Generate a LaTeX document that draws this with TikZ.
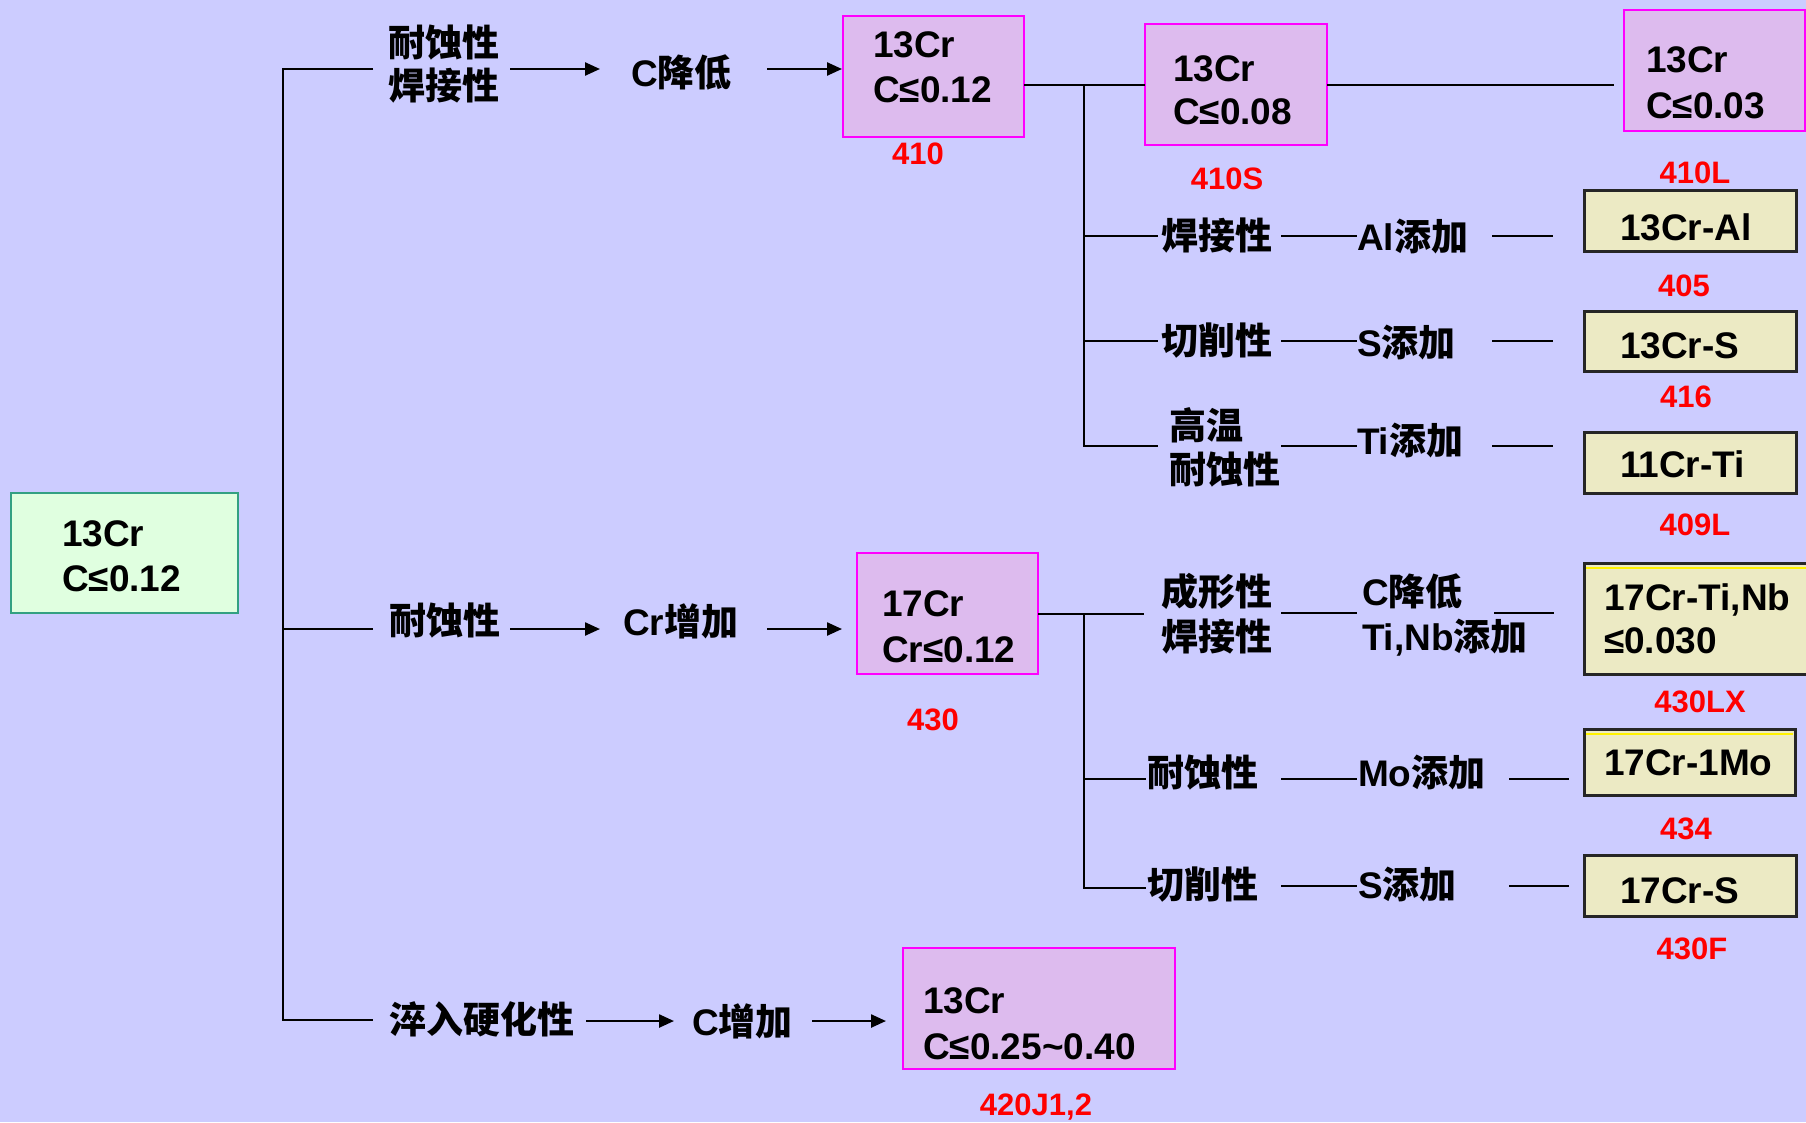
\documentclass[tikz,border=0pt]{standalone}
\usepackage{fontspec}
\setmainfont{Liberation Sans}
\newfontfamily\cjkfont{Noto Sans CJK SC}
\usetikzlibrary{arrows.meta}
\newcommand\zh[1]{{\cjkfont\bfseries #1}}
\definecolor{bgcol}{RGB}{204,204,255}
\definecolor{boxpur}{RGB}{221,187,238}
\definecolor{boxmag}{RGB}{255,0,255}
\definecolor{boxgreen}{RGB}{224,255,224}
\definecolor{greenedge}{RGB}{51,160,130}
\definecolor{beige}{RGB}{236,234,196}
\definecolor{labred}{RGB}{255,0,0}
\begin{document}
\begin{tikzpicture}[x=1pt,y=-1pt,
  every node/.style={inner sep=0pt,outer sep=0pt},
  txt/.style={anchor=base west,font=\fontsize{37}{44}\selectfont\bfseries},
  codelbl/.style={anchor=base,text=labred,font=\fontsize{31}{36}\selectfont\bfseries},
  pbox/.style={anchor=north west,draw=boxmag,fill=boxpur,line width=2.6pt},
  gbox/.style={anchor=north west,draw=greenedge,fill=boxgreen,line width=2.6pt},
  bbox/.style={anchor=north west,draw=black!85,fill=beige,line width=3pt},
  conn/.style={line width=2.4pt,draw=black},
  arr/.style={conn,-{Triangle[length=15pt,width=13pt]}}]
\clip (0,0) rectangle (1806,1122);
\fill[bgcol] (0,0) rectangle (1806,1122);

% ---------- root box
\node[gbox,minimum width=227pt,minimum height=120pt] (root) at (11,493) {};
\node[txt] (roota) at (62,546) {13Cr};
\node[txt] (rootb) at (62,591) {C≤0.12};

% ---------- main trunk
\coordinate (trT) at (283,69);
\coordinate (trM) at (283,629);
\coordinate (trB) at (283,1020);
\coordinate (brT) at (373,69);
\coordinate (brM) at (373,629);
\coordinate (brB) at (373,1020);
\draw[conn] (brT) -- (trT) -- (trB) -- (brB);
\draw[conn] (trM) -- (brM);

% ---------- top row
\node[txt] (t1a) at (388,56) {\zh{耐蚀性}};
\node[txt] (t1b) at (388,99) {\zh{焊接性}};
\node[txt] (t1c) at (631,86) {C\zh{降低}};
\coordinate (a1s) at (510,69); \coordinate (a1e) at (600,69);
\coordinate (a2s) at (767,69); \coordinate (a2e) at (842,69);
\draw[arr] (a1s) -- (a1e);
\draw[arr] (a2s) -- (a2e);

\node[pbox,minimum width=181pt,minimum height=121pt] (b410) at (843,16) {};
\node[txt] (b410a) at (873,57) {13Cr};
\node[txt] (b410b) at (873,102) {C≤0.12};
\node[codelbl] (l410) at (918,164) {410};

\node[pbox,minimum width=182pt,minimum height=121pt] (b410S) at (1145,24) {};
\node[txt] (b410Sa) at (1173,81) {13Cr};
\node[txt] (b410Sb) at (1173,124) {C≤0.08};
\node[codelbl] (l410S) at (1227,189) {410S};

\node[pbox,minimum width=181pt,minimum height=121pt] (b410L) at (1624,10) {};
\node[txt] (b410La) at (1646,72) {13Cr};
\node[txt] (b410Lb) at (1646,118) {C≤0.03};
\node[codelbl] (l410L) at (1695,183) {410L};

\coordinate (j1) at (1084,85);
\coordinate (e410L) at (1614,85);
\draw[conn] (b410.east |- j1) -- (b410S.west |- j1);
\draw[conn] (b410S.east |- j1) -- (e410L);

% sub-trunk of 410
\coordinate (s1) at (1084,236); \coordinate (s1e) at (1158,236);
\coordinate (s2) at (1084,341); \coordinate (s2e) at (1158,341);
\coordinate (s3) at (1084,446); \coordinate (s3e) at (1158,446);
\draw[conn] (j1) -- (s3) -- (s3e);
\draw[conn] (s1) -- (s1e);
\draw[conn] (s2) -- (s2e);

\node[txt] (p1) at (1161,249) {\zh{焊接性}};
\node[txt] (m1) at (1357,250) {Al\zh{添加}};
\node[txt] (p2) at (1161,354) {\zh{切削性}};
\node[txt] (m2) at (1357,356) {S\zh{添加}};
\node[txt] (p3a) at (1169,439) {\zh{高温}};
\node[txt] (p3b) at (1169,483) {\zh{耐蚀性}};
\node[txt] (m3) at (1357,454) {Ti\zh{添加}};

\coordinate (c1a) at (1281,236); \coordinate (c1b) at (1357,236);
\coordinate (c1c) at (1492,236); \coordinate (c1d) at (1553,236);
\coordinate (c2a) at (1281,341); \coordinate (c2b) at (1357,341);
\coordinate (c2c) at (1492,341); \coordinate (c2d) at (1553,341);
\coordinate (c3a) at (1281,446); \coordinate (c3b) at (1357,446);
\coordinate (c3c) at (1492,446); \coordinate (c3d) at (1553,446);
\draw[conn] (c1a) -- (c1b); \draw[conn] (c1c) -- (c1d);
\draw[conn] (c2a) -- (c2b); \draw[conn] (c2c) -- (c2d);
\draw[conn] (c3a) -- (c3b); \draw[conn] (c3c) -- (c3d);

\node[bbox,minimum width=212pt,minimum height=61pt] (bAl) at (1584,190) {};
\node[txt] (bAlt) at (1620,240) {13Cr-Al};
\node[codelbl] (l405) at (1684,296) {405};
\node[bbox,minimum width=212pt,minimum height=60pt] (bS13) at (1584,311) {};
\node[txt] (bS13t) at (1620,358) {13Cr-S};
\node[codelbl] (l416) at (1686,407) {416};
\node[bbox,minimum width=212pt,minimum height=61pt] (bTi) at (1584,432) {};
\node[txt] (bTit) at (1620,477) {11Cr-Ti};
\node[codelbl] (l409L) at (1695,535) {409L};

% ---------- middle row
\node[txt] (t2a) at (389,634) {\zh{耐蚀性}};
\node[txt] (t2b) at (623,635) {Cr\zh{增加}};
\coordinate (a3s) at (510,629); \coordinate (a3e) at (600,629);
\coordinate (a4s) at (767,629); \coordinate (a4e) at (842,629);
\draw[arr] (a3s) -- (a3e);
\draw[arr] (a4s) -- (a4e);

\node[pbox,minimum width=181pt,minimum height=121pt] (b430) at (857,553) {};
\node[txt] (b430a) at (882,616) {17Cr};
\node[txt] (b430b) at (882,662) {Cr≤0.12};
\node[codelbl] (l430) at (933,730) {430};

\coordinate (j2) at (1084,614);
\coordinate (j2e) at (1144,614);
\draw[conn] (b430.east |- j2) -- (j2e);
\coordinate (u1) at (1084,779); \coordinate (u1e) at (1146,779);
\coordinate (u2) at (1084,888); \coordinate (u2e) at (1146,888);
\draw[conn] (j2) -- (u2) -- (u2e);
\draw[conn] (u1) -- (u1e);

\node[txt] (q1a) at (1161,605) {\zh{成形性}};
\node[txt] (q1b) at (1161,650) {\zh{焊接性}};
\node[txt] (n1a) at (1362,605) {C\zh{降低}};
\node[txt] (n1b) at (1362,650) {Ti,Nb\zh{添加}};
\node[txt] (q2) at (1147,786) {\zh{耐蚀性}};
\node[txt] (n2) at (1358,786) {Mo\zh{添加}};
\node[txt] (q3) at (1147,898) {\zh{切削性}};
\node[txt] (n3) at (1358,898) {S\zh{添加}};

\coordinate (d1a) at (1281,613); \coordinate (d1b) at (1357,613);
\coordinate (d1c) at (1494,613); \coordinate (d1d) at (1554,613);
\coordinate (d2a) at (1281,779); \coordinate (d2b) at (1357,779);
\coordinate (d2c) at (1509,779); \coordinate (d2d) at (1569,779);
\coordinate (d3a) at (1281,886); \coordinate (d3b) at (1357,886);
\coordinate (d3c) at (1509,886); \coordinate (d3d) at (1569,886);
\draw[conn] (d1a) -- (d1b); \draw[conn] (d1c) -- (d1d);
\draw[conn] (d2a) -- (d2b); \draw[conn] (d2c) -- (d2d);
\draw[conn] (d3a) -- (d3b); \draw[conn] (d3c) -- (d3d);

\node[bbox,minimum width=240pt,minimum height=111pt] (bTiNb) at (1584,563) {};
\draw[yellow,line width=2.5pt] ([xshift=2pt,yshift=-5pt]bTiNb.north west) -- ([yshift=-5pt]bTiNb.north east);
\node[txt] (bTiNba) at (1604,610) {17Cr-Ti,Nb};
\node[txt] (bTiNbb) at (1604,653) {≤0.030};
\node[codelbl] (l430LX) at (1700,712) {430LX};

\node[bbox,minimum width=211pt,minimum height=66pt] (bMo) at (1584,729) {};
\draw[yellow,line width=2.5pt] ([xshift=2pt,yshift=-5pt]bMo.north west) -- ([xshift=-2pt,yshift=-5pt]bMo.north east);
\node[txt] (bMot) at (1604,775) {17Cr-1Mo};
\node[codelbl] (l434) at (1686,839) {434};

\node[bbox,minimum width=212pt,minimum height=61pt] (bS17) at (1584,855) {};
\node[txt] (bS17t) at (1620,903) {17Cr-S};
\node[codelbl] (l430F) at (1692,959) {430F};

% ---------- bottom row
\node[txt] (t3a) at (389,1033) {\zh{淬入硬化性}};
\node[txt] (t3b) at (692,1035) {C\zh{增加}};
\coordinate (a5s) at (586,1021); \coordinate (a5e) at (674,1021);
\coordinate (a6s) at (812,1021); \coordinate (a6e) at (886,1021);
\draw[arr] (a5s) -- (a5e);
\draw[arr] (a6s) -- (a6e);

\node[pbox,minimum width=272pt,minimum height=121pt] (b420) at (903,948) {};
\node[txt] (b420a) at (923,1013) {13Cr};
\node[txt] (b420b) at (923,1059) {C≤0.25\textasciitilde0.40};
\node[codelbl] (l420) at (1036,1115) {420J1,2};
\end{tikzpicture}
\end{document}
